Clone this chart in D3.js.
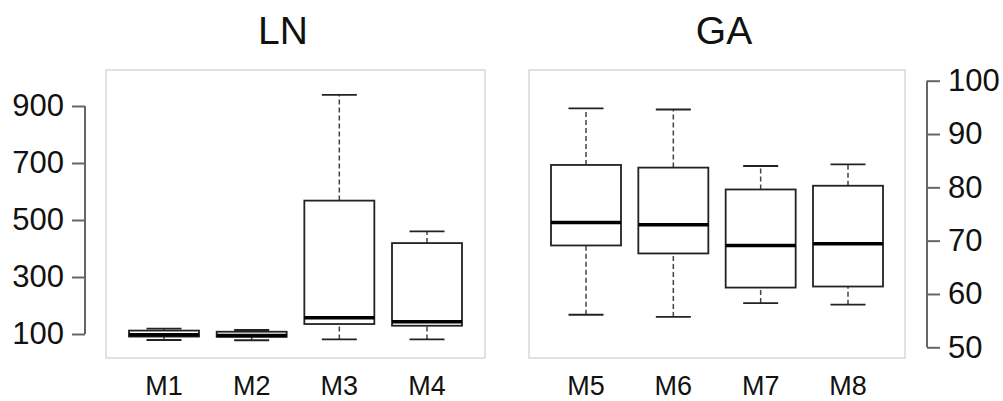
<!DOCTYPE html>
<html>
<head>
<meta charset="utf-8">
<script src="https://cdn.jsdelivr.net/npm/d3@7"></script>
<style>
  body { margin: 0; background: #fff; }
  svg text { font-family: "Liberation Sans", Arial, sans-serif; fill: #111; }
</style>
</head>
<body>
<svg id="chart" width="1003" height="401"></svg>
<script>
// box stats: [lower whisker, q1, median, q3, upper whisker]
const lnMethods = ["M1", "M2", "M3", "M4"];
const lnStats = [
  [79, 91, 97, 112, 119],
  [78, 90, 95, 108, 114],
  [81, 135, 157, 568, 939],
  [81, 129, 143, 419, 460],
];
const lnTicks = [100, 300, 500, 700, 900];

const gaMethods = ["M5", "M6", "M7", "M8"];
const gaStats = [
  [56.1, 69.1, 73.4, 84.2, 94.8],
  [55.7, 67.6, 73.0, 83.7, 94.6],
  [58.3, 61.2, 69.1, 79.6, 84.0],
  [58.0, 61.4, 69.4, 80.3, 84.3],
];
const gaTicks = [50, 60, 70, 80, 90, 100];

const svg = d3.select("#chart");

function drawPanel(opts) {
  const g = svg.append("g");
  const x = d3.scalePoint().domain(opts.methods).range(opts.xRange);
  const y = d3.scaleLinear().domain(opts.yDomain).range(opts.yRange);
  const boxW = 70;

  // panel frame
  g.append("rect")
    .attr("x", opts.frame[0])
    .attr("y", 70)
    .attr("width", opts.frame[1] - opts.frame[0])
    .attr("height", 288)
    .attr("fill", "none")
    .attr("stroke", "#d8d8d8")
    .attr("stroke-width", 1.5);

  // title
  g.append("text")
    .attr("x", opts.titleX)
    .attr("y", 44)
    .attr("text-anchor", "middle")
    .style("font-size", "39px")
    .text(opts.title);

  const boxes = g.selectAll("g.box")
    .data(opts.stats)
    .join("g")
    .attr("class", "box")
    .attr("transform", (d, i) => `translate(${x(opts.methods[i])},0)`);

  // whiskers
  boxes.append("line")
    .attr("y1", d => y(d[0])).attr("y2", d => y(d[1]))
    .attr("stroke", "#444").attr("stroke-width", 1.5)
    .attr("stroke-dasharray", "5,3");
  boxes.append("line")
    .attr("y1", d => y(d[3])).attr("y2", d => y(d[4]))
    .attr("stroke", "#444").attr("stroke-width", 1.5)
    .attr("stroke-dasharray", "5,3");
  // caps
  [0, 4].forEach(k => {
    boxes.append("line")
      .attr("x1", -boxW / 4).attr("x2", boxW / 4)
      .attr("y1", d => y(d[k])).attr("y2", d => y(d[k]))
      .attr("stroke", "#222").attr("stroke-width", 1.8);
  });
  // box
  boxes.append("rect")
    .attr("x", -boxW / 2)
    .attr("width", boxW)
    .attr("y", d => y(d[3]))
    .attr("height", d => y(d[1]) - y(d[3]))
    .attr("fill", "#fff")
    .attr("stroke", "#222")
    .attr("stroke-width", 1.8);
  // median
  boxes.append("line")
    .attr("x1", -boxW / 2).attr("x2", boxW / 2)
    .attr("y1", d => y(d[2])).attr("y2", d => y(d[2]))
    .attr("stroke", "#000").attr("stroke-width", 3.5);

  // category labels
  g.selectAll("text.cat")
    .data(opts.methods)
    .join("text")
    .attr("class", "cat")
    .attr("x", d => x(d))
    .attr("y", 395)
    .attr("text-anchor", "middle")
    .style("font-size", "27px")
    .text(d => d);

  // value axis, domain line only between first and last tick
  const axisScale = y.copy();
  const axis = (opts.side === "left" ? d3.axisLeft(axisScale) : d3.axisRight(axisScale))
    .tickValues(opts.ticks)
    .tickSize(13)
    .tickSizeOuter(0)
    .tickPadding(8)
    .tickFormat(d3.format("d"));
  const ax = g.append("g")
    .attr("transform", `translate(${opts.axisX},0)`)
    .call(axis);
  ax.select(".domain").remove();
  ax.append("line")
    .attr("y1", y(opts.ticks[0]))
    .attr("y2", y(opts.ticks[opts.ticks.length - 1]))
    .attr("stroke", "#666").attr("stroke-width", 2);
  ax.selectAll(".tick line").attr("stroke", "#666").attr("stroke-width", 2);
  ax.selectAll(".tick text")
    .attr("fill", "#111")
    .style("font-family", "'Liberation Sans', Arial, sans-serif")
    .style("font-size", "31px");
}

drawPanel({
  title: "LN", titleX: 283,
  methods: lnMethods, stats: lnStats, ticks: lnTicks,
  xRange: [164, 427], frame: [106, 485],
  yDomain: [100, 900], yRange: [334, 106],
  side: "left", axisX: 85,
});

drawPanel({
  title: "GA", titleX: 724,
  methods: gaMethods, stats: gaStats, ticks: gaTicks,
  xRange: [586, 848], frame: [529, 905],
  yDomain: [50, 100], yRange: [347.3, 80.7],
  side: "right", axisX: 927,
});
</script>
</body>
</html>
